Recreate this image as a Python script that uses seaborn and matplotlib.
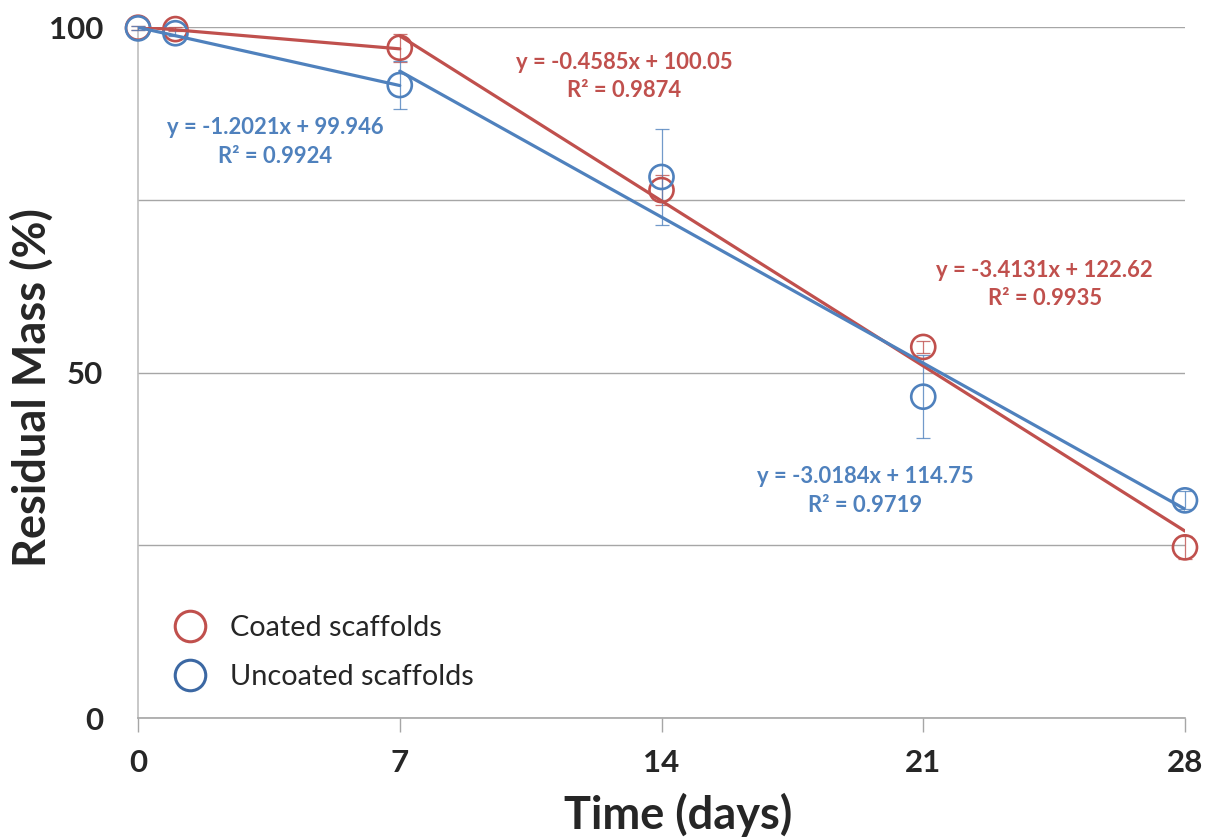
import numpy as np
import pandas as pd
import seaborn as sns
import matplotlib
from matplotlib import pyplot as plt
from matplotlib.lines import Line2D

matplotlib.use("Agg")

# measured points (mean +/- sd)
days = [0, 1, 7, 14, 21, 28]
coated = [99.9, 99.7, 97.0, 76.4, 53.7, 24.7]
coated_err = [0.3, 0.3, 2.0, 2.2, 0.9, 1.7]
uncoated = [99.8, 99.1, 91.6, 78.3, 46.5, 31.5]
uncoated_err = [0.3, 0.4, 3.5, 7.0, 6.0, 1.3]

# piecewise linear fits shown on the chart: (x0, x1, slope, intercept, r2)
coated_fits = [(0, 7, -0.4585, 100.05, 0.9874), (7, 28, -3.4131, 122.62, 0.9935)]
uncoated_fits = [(0, 7, -1.2021, 99.946, 0.9924), (7, 28, -3.0184, 114.75, 0.9719)]

# where the fit equations sit (data coords)
coated_labels = [(13.0, 94.9), (24.25, 64.8)]
uncoated_labels = [(3.66, 85.4), (19.45, 34.9)]

RED = "#C0504D"
BLUE = "#4F81BD"
BLUE_DARK = "#3C68A3"


def fit_frame(fits):
    rows = []
    for i, (x0, x1, m, b, _) in enumerate(fits):
        for x in (x0, x1):
            rows.append({"seg": i, "x": x, "y": m * x + b})
    return pd.DataFrame(rows)


def main():
    sns.set_theme(style="white")
    plt.rcParams["font.family"] = ["Lato", "DejaVu Sans"]

    fig, ax = plt.subplots(figsize=(12.12, 8.39), dpi=100)
    fig.subplots_adjust(left=0.1139, right=0.9777, bottom=0.1442, top=0.9678)

    for vals, errs, fits, labels, col in [
        (coated, coated_err, coated_fits, coated_labels, RED),
        (uncoated, uncoated_err, uncoated_fits, uncoated_labels, BLUE),
    ]:
        ax.errorbar(days, vals, yerr=errs, fmt="none", ecolor=col, elinewidth=0.9,
                    capsize=5, capthick=0.9, alpha=0.8, clip_on=False, zorder=3)
        sns.scatterplot(x=days, y=vals, ax=ax, s=300, marker="o", fc="none",
                        ec=col, linewidth=1.9, clip_on=False, zorder=4)
        sns.lineplot(data=fit_frame(fits), x="x", y="y", units="seg",
                     estimator=None, ax=ax, color=col, linewidth=2.3, zorder=5)
        for (x0, x1, m, b, r2), (tx, ty) in zip(fits, labels):
            sign = "+" if b >= 0 else "-"
            ax.text(tx, ty, f"y = {m:.4f}x {sign} {abs(b):g}", color=col,
                    fontsize=15.8, fontweight="bold", ha="center", va="center")
            ax.text(tx, ty - 4.1, f"R² = {r2:.4f}", color=col,
                    fontsize=15.8, fontweight="bold", ha="center", va="center")

    ax.set_xlim(0, 28)
    ax.set_ylim(0, 100)
    ax.set_xticks([0, 7, 14, 21, 28])
    ax.set_yticks([0, 50, 100])
    ax.set_yticks([25, 75], minor=True)
    ax.yaxis.grid(True, which="both", color="#A6A6A6", linewidth=1.0)
    ax.set_axisbelow(True)

    for s in ["top", "right"]:
        ax.spines[s].set_visible(False)
    ax.spines["left"].set_color("#BFBFBF")
    ax.spines["bottom"].set_color("#A6A6A6")
    ax.spines["left"].set_linewidth(1.2)
    ax.spines["bottom"].set_linewidth(1.2)
    ax.tick_params(axis="x", bottom=True, length=10, width=1, color="#A6A6A6",
                   direction="out", pad=12, labelsize=22.5)
    ax.tick_params(axis="y", which="major", left=True, length=0, pad=25, labelsize=22.5)
    ax.tick_params(axis="y", which="minor", left=False)
    for lab in ax.get_xticklabels() + ax.get_yticklabels():
        lab.set_fontweight("bold")

    ax.set_xlabel("Time (days)", fontsize=32.5, fontweight="bold")
    ax.set_ylabel("Residual Mass (%)", fontsize=32.5, fontweight="bold")
    ax.xaxis.set_label_coords(0.516, -0.108)
    ax.yaxis.set_label_coords(-0.081, 0.478)

    handles = [
        Line2D([], [], linestyle="none", marker="o", markersize=22, mfc="none",
               mec=RED, mew=2.2),
        Line2D([], [], linestyle="none", marker="o", markersize=22, mfc="none",
               mec=BLUE_DARK, mew=2.2),
    ]
    ax.legend(handles, ["Coated scaffolds", "Uncoated scaffolds"], loc="center left",
              bbox_to_anchor=(0.011, 0.0948), frameon=False, fontsize=20.8,
              handletextpad=0.38, labelspacing=0.8, borderaxespad=0)

    fig.savefig("out.png", dpi=100)


if __name__ == "__main__":
    main()
